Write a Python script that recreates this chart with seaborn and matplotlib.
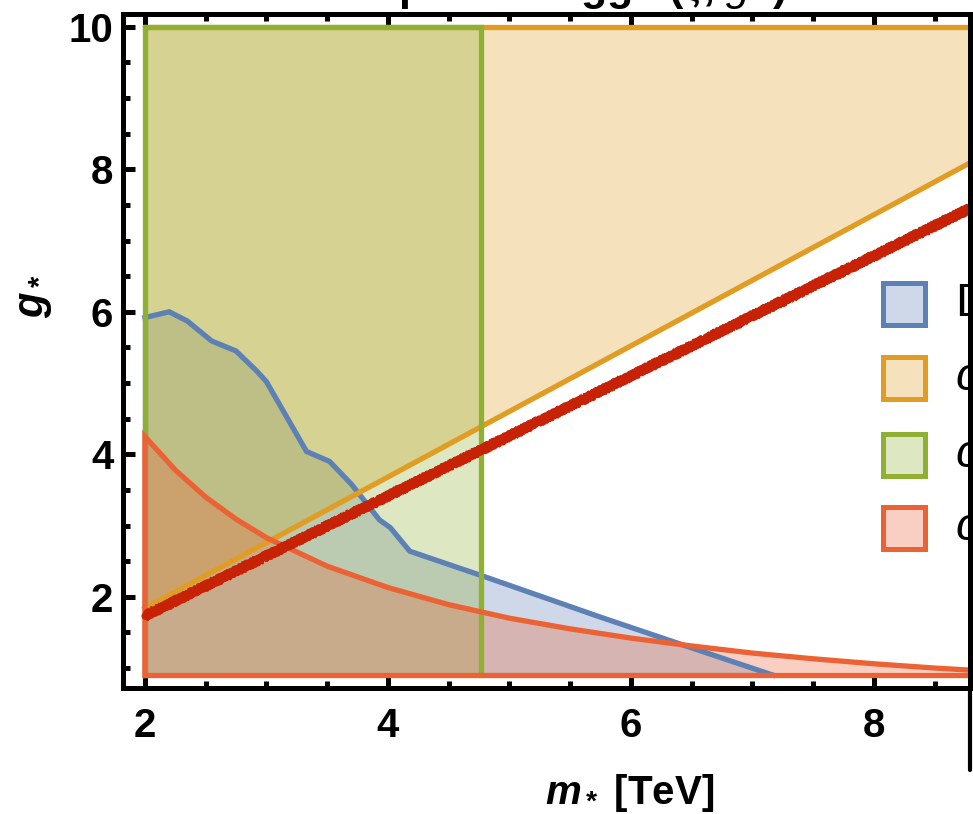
import matplotlib
matplotlib.use("Agg")
import matplotlib.pyplot as plt
import seaborn as sns
import numpy as np
import pandas as pd
from matplotlib.colors import to_rgba
from matplotlib.lines import Line2D
from matplotlib.patches import Rectangle
from matplotlib.ticker import MultipleLocator

# ---- data -------------------------------------------------------------
# diboson exclusion boundary (upper edge of excluded region)
m_diboson = [2.00, 2.20, 2.35, 2.55, 2.75, 2.92, 3.00, 3.33, 3.52, 3.70,
             3.93, 4.02, 4.18, 4.80, 5.74, 6.47, 7.17]
g_diboson = [5.92, 6.00, 5.87, 5.59, 5.45, 5.17, 5.02, 4.04, 3.90, 3.58,
             3.08, 2.97, 2.64, 2.28, 1.72, 1.30, 0.90]

# lower edge of the first coupling bound (region above is excluded)
m_cH = [2.0, 8.8]
g_cH = [1.84, 8.10]

# mass bound (vertical band)
m_mass_max = 4.77

# falling coupling bound (region below is excluded)
m_red = [2.0, 2.25, 2.5, 2.75, 3.0, 3.5, 4.0, 4.5, 5.0, 5.5, 6.0,
         6.5, 7.0, 7.5, 8.0, 8.5, 8.8]
g_red = [4.25, 3.78, 3.40, 3.09, 2.83, 2.43, 2.13, 1.89, 1.70, 1.55, 1.42,
         1.31, 1.21, 1.13, 1.06, 1.00, 0.97]

# scan points band
m_band = [2.0, 8.8]
g_band = [1.73, 7.46]

g_floor = 0.9
g_ceil = 10.0
m_min = 2.0

legend_labels = ["Diboson", "$c_H$", "$c_W$", "$c_{2W}$"]
palette = ["#5E81B5", "#E19C24", "#8FB032", "#EB6235"]
band_color = "#C82206"

x_ticks = [2, 4, 6, 8]
y_ticks = [2, 4, 6, 8, 10]

# ---- style ------------------------------------------------------------
sns.set_theme(style="ticks")
plt.rcParams["font.family"] = ["Liberation Sans", "DejaVu Sans"]
plt.rcParams["mathtext.fontset"] = "custom"
plt.rcParams["mathtext.rm"] = "Liberation Sans:bold"
plt.rcParams["mathtext.it"] = "Liberation Sans:italic"
plt.rcParams["mathtext.bf"] = "Liberation Sans:bold:italic"
for key in ["text.color", "axes.labelcolor", "xtick.color", "ytick.color",
            "xtick.labelcolor", "ytick.labelcolor"]:
    plt.rcParams[key] = "black"

W, H = 973, 814
fig = plt.figure(figsize=(W / 100, H / 100), dpi=100)
L, R, T, B = 123, 970, 14, 688
ax = fig.add_axes([L / W, 1 - B / H, (R - L) / W, (B - T) / H])
ax.set_xlim(1.82, 8.79)
ax.set_ylim(0.72, 10.18)

alpha = 0.3
lw_edge = 3.8

# ---- filled regions -----------------------------------------------------
ax.fill_between(m_diboson, g_floor, g_diboson, color=to_rgba(palette[0], alpha), lw=0, zorder=1)
ax.fill_between(m_cH, g_cH, g_ceil, color=to_rgba(palette[1], alpha), lw=0, zorder=1)
ax.fill_between([m_min, m_mass_max], g_floor, g_ceil, color=to_rgba(palette[2], alpha), lw=0, zorder=1)
ax.fill_between(m_red, g_floor, g_red, color=to_rgba(palette[3], alpha), lw=0, zorder=1)

# ---- region boundaries --------------------------------------------------
def edge(xs, ys, color, z, lw=lw_edge):
    sns.lineplot(x=xs, y=ys, ax=ax, color=color, lw=lw, sort=False,
                 estimator=None, zorder=z, solid_joinstyle="miter",
                 solid_capstyle="projecting")

# diboson
edge(m_diboson, g_diboson, palette[0], 2.0)
edge([m_min, m_min], [g_floor, g_diboson[0]], palette[0], 2.0)
# first coupling bound
edge(m_cH, g_cH, palette[1], 2.1)
edge([m_cH[0], m_cH[-1]], [g_ceil, g_ceil], palette[1], 2.1)
# mass bound
edge([m_min, m_min, m_mass_max, m_mass_max],
     [g_floor, g_ceil, g_ceil, g_floor], palette[2], 2.2)
# falling coupling bound
edge([m_min] + m_red, [g_floor] + g_red, palette[3], 2.3)
edge([m_min, m_red[-1]], [g_floor, g_floor], palette[3], 2.3)

# ---- scan points band (rough, speckled look) -----------------------------
for sc, ln, w in [(2.0, 4.0, 5.0), (4.5, 1.2, 2.2), (4.0, 1.8, 2.4),
                  (5.0, 0.9, 1.6), (3.5, 2.6, 2.8)]:
    sns.lineplot(x=m_band, y=g_band, ax=ax, color=band_color, lw=w,
                 estimator=None, zorder=3)
    ax.lines[-1].set_sketch_params(scale=sc, length=ln, randomness=3.0)

# ---- axes frame & ticks ---------------------------------------------------
for s in ["left", "right", "top", "bottom"]:
    ax.spines[s].set_visible(True)
    ax.spines[s].set_linewidth(3.6)
    ax.spines[s].set_color("black")
    ax.spines[s].set_zorder(5)

ax.set_xticks(x_ticks)
ax.set_yticks(y_ticks)
ax.xaxis.set_minor_locator(MultipleLocator(0.5))
ax.yaxis.set_minor_locator(MultipleLocator(0.5))
ax.tick_params(which="both", direction="in", top=True, right=False,
               bottom=True, left=True, color="black", width=3.6)
ax.tick_params(which="major", length=8.3, labelsize=29, pad=7)
ax.tick_params(axis="x", which="major", pad=14)
ax.tick_params(which="minor", length=5.0)
for lab in ax.get_xticklabels() + ax.get_yticklabels():
    lab.set_fontweight("bold")

ax.set_xlabel(r"$\mathbf{m}_*$ [TeV]", fontsize=29, fontweight="bold")
ax.xaxis.set_label_coords((630 - L) / (R - L), (B - 772) / (B - T))
ax.set_ylabel(r"$\mathbf{g}_*$", fontsize=30, fontweight="bold")
ax.yaxis.set_label_coords((54 - L) / (R - L), (B - 296) / (B - T))

# title (mostly outside the canvas)
fig.text(545 / W, 1.0, "Composite Higgs ($\\xi$, $g_*$)", ha="center",
         va="baseline", fontsize=31, fontweight="bold")

# frame line continuing below the plot on the right
fig.add_artist(Line2D([R / W, R / W], [1 - B / H, 1 - 770 / H],
                      color="black", lw=3.0, transform=fig.transFigure))

# ---- legend -------------------------------------------------------------
sq = 42
x0 = 883
y_tops = [283, 357, 434, 507]
for lab, col, yt in zip(legend_labels, palette, y_tops):
    fig.add_artist(Rectangle((x0 / W, 1 - (yt + sq) / H), sq / W, sq / H,
                             facecolor=to_rgba(col, alpha), edgecolor=col,
                             lw=3.6, transform=fig.transFigure, zorder=10))
    fig.text(955 / W, 1 - (yt + sq / 2) / H, lab, ha="left", va="center",
             fontsize=34, zorder=10)

fig.savefig("out.png", dpi=100)
